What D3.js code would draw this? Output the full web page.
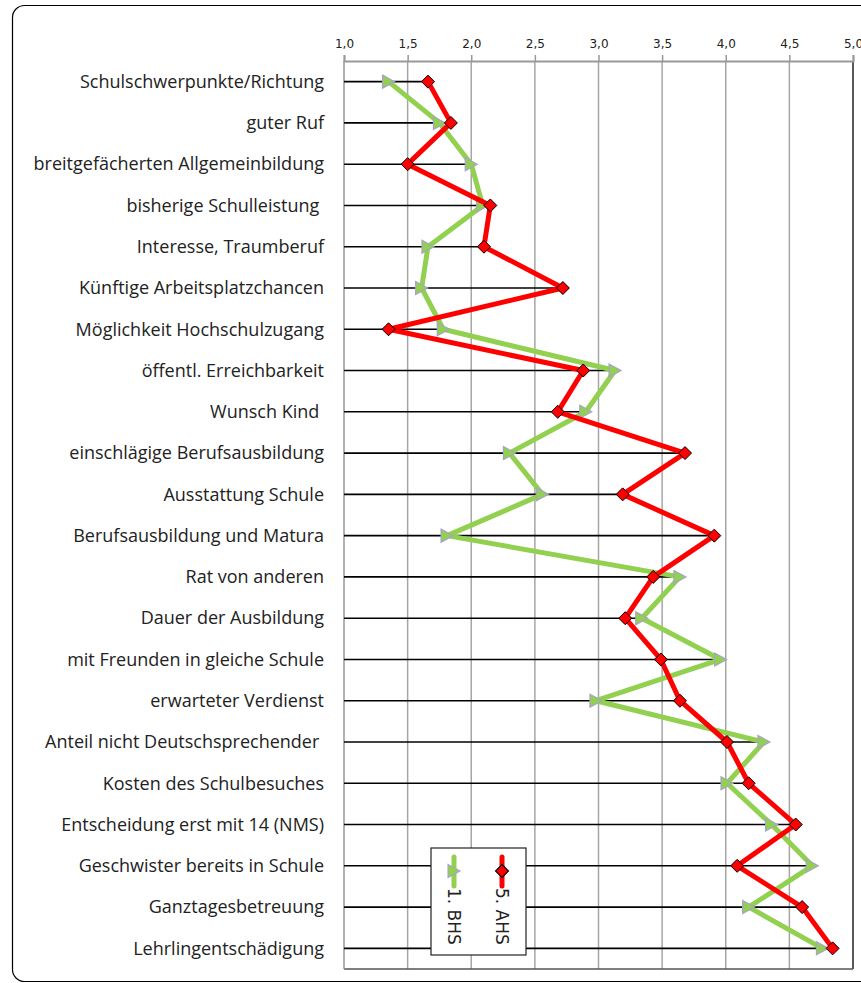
<!DOCTYPE html>
<html>
<head>
<meta charset="utf-8">
<script src="https://cdn.jsdelivr.net/npm/d3@7"></script>
<style>
  html, body { margin: 0; padding: 0; background: #fff; }
  svg { display: block; }
  text { white-space: pre; }
</style>
</head>
<body>
<svg id="chart" width="861" height="983"></svg>
<script>
const categories = [
  "Schulschwerpunkte/Richtung",
  "guter Ruf",
  "breitgefächerten Allgemeinbildung",
  "bisherige Schulleistung ",
  "Interesse, Traumberuf",
  "Künftige Arbeitsplatzchancen",
  "Möglichkeit Hochschulzugang",
  "öffentl. Erreichbarkeit",
  "Wunsch Kind ",
  "einschlägige Berufsausbildung",
  "Ausstattung Schule",
  "Berufsausbildung und Matura",
  "Rat von anderen",
  "Dauer der Ausbildung",
  "mit Freunden in gleiche Schule",
  "erwarteter Verdienst",
  "Anteil nicht Deutschsprechender ",
  "Kosten des Schulbesuches",
  "Entscheidung erst mit 14 (NMS)",
  "Geschwister bereits in Schule",
  "Ganztagesbetreuung",
  "Lehrlingentschädigung"
];
const ahs5 = [1.66, 1.84, 1.50, 2.15, 2.10, 2.72, 1.35, 2.88, 2.68, 3.68, 3.19, 3.91,
              3.43, 3.21, 3.49, 3.64, 4.01, 4.18, 4.55, 4.09, 4.60, 4.84];
const bhs1 = [1.35, 1.75, 2.00, 2.09, 1.66, 1.61, 1.78, 3.13, 2.90, 2.30, 2.56, 1.81,
              3.64, 3.34, 3.96, 2.98, 4.30, 4.01, 4.36, 4.68, 4.18, 4.76];
const tickValues = [1.0, 1.5, 2.0, 2.5, 3.0, 3.5, 4.0, 4.5, 5.0];
const seriesNames = ["5. AHS", "1. BHS"];

const svg = d3.select("#chart");
const L = 344, R = 853, T = 61, B = 969;

// outer rounded frame
svg.append("rect")
  .attr("x", 12.5).attr("y", 5.5).attr("width", 880).attr("height", 976)
  .attr("rx", 12).attr("ry", 12)
  .attr("fill", "#fff").attr("stroke", "#000").attr("stroke-width", 1.2);

const x = d3.scaleLinear().domain([1, 5]).range([L, R]);
const y = d3.scaleBand().domain(categories).range([T, B]);
const yc = d => y(d) + y.bandwidth() / 2;

// gridlines
svg.append("g").selectAll("line").data(tickValues.slice(1, -1)).join("line")
  .attr("x1", d => x(d)).attr("x2", d => x(d))
  .attr("y1", T).attr("y2", B)
  .attr("stroke", "#a6a6a6").attr("stroke-width", 1.5);

// plot border right and bottom
svg.append("line").attr("x1", R).attr("x2", R).attr("y1", T).attr("y2", B)
  .attr("stroke", "#222").attr("stroke-width", 1.5);
svg.append("line").attr("x1", L).attr("x2", R).attr("y1", B).attr("y2", B)
  .attr("stroke", "#555").attr("stroke-width", 1.5);
svg.append("line").attr("x1", L).attr("x2", L).attr("y1", T).attr("y2", B)
  .attr("stroke", "#999").attr("stroke-width", 1.5);

// top axis
const axis = d3.axisTop(x).tickValues(tickValues).tickSize(6).tickPadding(7)
  .tickFormat(d => d3.format(".1f")(d).replace(".", ","));
const gA = svg.append("g").attr("transform", `translate(0,${T})`).call(axis);
gA.select(".domain").attr("stroke", "#999").attr("stroke-width", 2);
gA.selectAll(".tick line").attr("stroke", "#999").attr("stroke-width", 1.5);
gA.selectAll(".tick text").attr("font-family", "DejaVu Sans, sans-serif")
  .attr("font-size", 12).attr("fill", "#222");

// category labels
svg.append("g").selectAll("text").data(categories).join("text")
  .attr("x", 324).attr("y", d => yc(d)).attr("dy", "0.35em")
  .attr("text-anchor", "end")
  .attr("font-family", "Open Sans, sans-serif").attr("font-size", 18)
  .attr("fill", "#222")
  .text(d => d);

// black reference lines from 1.0 to max value
svg.append("g").selectAll("line").data(categories).join("line")
  .attr("x1", x(1)).attr("x2", (d, i) => x(Math.max(ahs5[i], bhs1[i])))
  .attr("y1", d => yc(d)).attr("y2", d => yc(d))
  .attr("stroke", "#000").attr("stroke-width", 1.6);

const line = d3.line().x(d => x(d.v)).y(d => yc(d.c));
const greenData = categories.map((c, i) => ({ c, v: bhs1[i] }));
const redData = categories.map((c, i) => ({ c, v: ahs5[i] }));

const triPath = "M-6,-6.5 L6,0 L-6,6.5 Z";
const diaPath = "M0,-6.5 L6.5,0 L0,6.5 L-6.5,0 Z";

// green series
svg.append("path").datum(greenData).attr("d", line)
  .attr("fill", "none").attr("stroke", "#92d050").attr("stroke-width", 5)
  .attr("stroke-linejoin", "round");
svg.append("g").selectAll("path").data(greenData).join("path")
  .attr("transform", d => `translate(${x(d.v)},${yc(d.c)})`)
  .attr("d", triPath)
  .attr("fill", "#92d050").attr("stroke", "#a8a2c8").attr("stroke-width", 1.2);

// red series
svg.append("path").datum(redData).attr("d", line)
  .attr("fill", "none").attr("stroke", "#ff0000").attr("stroke-width", 5)
  .attr("stroke-linejoin", "round");
svg.append("g").selectAll("path").data(redData).join("path")
  .attr("transform", d => `translate(${x(d.v)},${yc(d.c)})`)
  .attr("d", diaPath)
  .attr("fill", "#ff0000").attr("stroke", "#000").attr("stroke-width", 1);

// legend
const lg = svg.append("g");
lg.append("rect").attr("x", 431).attr("y", 848).attr("width", 95).attr("height", 107)
  .attr("fill", "#fff").attr("stroke", "#222").attr("stroke-width", 1.2);
const legendItems = [
  { name: seriesNames[0], cx: 502, color: "#ff0000", marker: diaPath, mstroke: "#000" },
  { name: seriesNames[1], cx: 454, color: "#92d050", marker: triPath, mstroke: "#a8a2c8" }
];
legendItems.forEach(it => {
  lg.append("line").attr("x1", it.cx).attr("x2", it.cx).attr("y1", 857).attr("y2", 886)
    .attr("stroke", it.color).attr("stroke-width", 5).attr("stroke-linecap", "round");
  lg.append("path").attr("transform", `translate(${it.cx},871)`).attr("d", it.marker)
    .attr("fill", it.color).attr("stroke", it.mstroke).attr("stroke-width", 1.1);
  lg.append("text").attr("transform", `translate(${it.cx},888) rotate(90)`)
    .attr("dy", "0.35em").attr("font-family", "DejaVu Sans, sans-serif")
    .attr("font-size", 17).attr("fill", "#222").text(it.name);
});
</script>
</body>
</html>
